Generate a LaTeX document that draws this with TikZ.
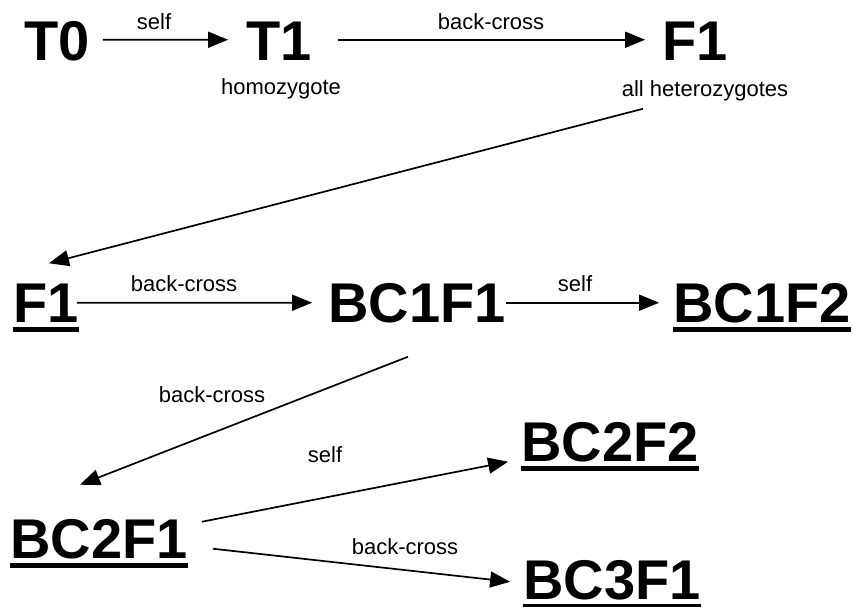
\documentclass[tikz,border=0pt]{standalone}
\usepackage{fontspec}
\setmainfont{Liberation Sans}
\usetikzlibrary{arrows.meta}
\tikzset{
  big/.style={inner sep=0pt, anchor=base, font=\bfseries\fontsize{56}{60}\selectfont},
  small/.style={inner sep=0pt, anchor=base, font=\fontsize{22}{24}\selectfont},
  arr/.style={-{Triangle[length=20pt,width=16pt]}, line width=1.7pt},
  ul/.style={line width=4.5pt}
}
\begin{document}
\begin{tikzpicture}[x=1pt,y=-1pt]
\useasboundingbox (0,0) rectangle (854,607);
% top row
\node[big] (T0) at (57,61) {T0};
\node[big] (T1) at (279,61) {T1};
\node[big] (F1t) at (695,61) {F1};
\node[small] (hom) at (281,95) {homozygote};
\node[small] (het) at (705,97) {all heterozygotes};
\node[small] (s1) at (154,30) {self};
\node[small] (b1) at (491,30) {back-cross};
% middle row
\node[big] (F1m) at (46,322) {F1};
\node[big] (BC1F1) at (417,322) {BC1F1};
\node[big] (BC1F2) at (762,322) {BC1F2};
\node[small] (b2) at (184,291) {back-cross};
\node[small] (s2) at (575,291) {self};
% lower rows
\node[big] (BC2F1) at (99,558) {BC2F1};
\node[big] (BC2F2) at (610,461) {BC2F2};
\node[big] (BC3F1) at (612,599) {BC3F1};
\node[small] (b3) at (212,402) {back-cross};
\node[small] (s3) at (325,462) {self};
\node[small] (b4) at (405,554) {back-cross};
% underlines
\foreach \n in {F1m,BC1F2,BC2F1,BC2F2,BC3F1}
  \draw[ul] ([yshift=-7.5pt]\n.base west) -- ([yshift=-7.5pt]\n.base east);
% arrows
\draw[arr] ([xshift=13pt,yshift=2pt]T0.east) -- ([xshift=-18pt,yshift=2pt]T1.west);
\draw[arr] ([xshift=26pt,yshift=2pt]T1.east) -- ([xshift=-17pt,yshift=2pt]F1t.west);
\draw[arr] ([xshift=-62pt,yshift=-7pt]het.south) -- ([xshift=3pt,yshift=20pt]F1m.north);
\draw[arr] ([xshift=-2pt]F1m.east) -- ([xshift=-16pt]BC1F1.west);
\draw[arr] ([xshift=0pt]BC1F1.east) -- ([xshift=-14pt]BC1F2.west);
\draw[arr] ([xshift=-9pt,yshift=-34pt]BC1F1.south) -- ([xshift=-19pt,yshift=34pt]BC2F1.north);
\draw[arr] ([xshift=14pt,yshift=17pt]BC2F1.east) -- ([xshift=-13pt,yshift=-20pt]BC2F2.west);
\draw[arr] ([xshift=25pt,yshift=-10pt]BC2F1.east) -- ([xshift=-13pt,yshift=-2pt]BC3F1.west);
\end{tikzpicture}
\end{document}
